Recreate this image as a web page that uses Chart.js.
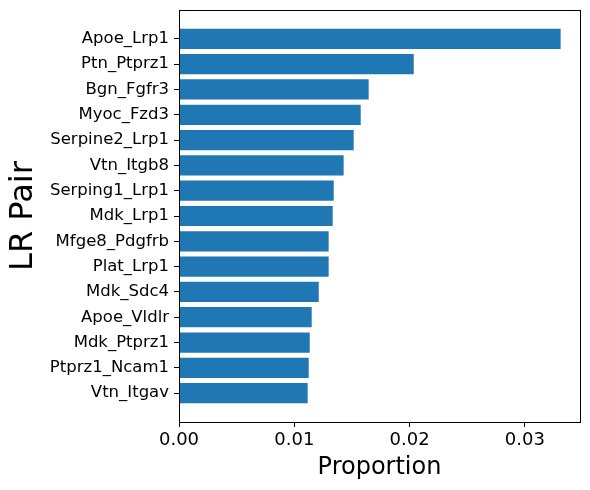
<!DOCTYPE html>
<html>
<head>
<meta charset="utf-8">
<script src="https://cdn.jsdelivr.net/npm/chart.js@4"></script>
<style>
html,body{margin:0;padding:0;background:#fff;}
#wrap{width:590px;height:490px;}
</style>
</head>
<body>
<div id="wrap"><canvas id="c" width="590" height="490"></canvas></div>
<script>
const pairs = ["Apoe_Lrp1","Ptn_Ptprz1","Bgn_Fgfr3","Myoc_Fzd3","Serpine2_Lrp1","Vtn_Itgb8","Serping1_Lrp1","Mdk_Lrp1","Mfge8_Pdgfrb","Plat_Lrp1","Mdk_Sdc4","Apoe_Vldlr","Mdk_Ptprz1","Ptprz1_Ncam1","Vtn_Itgav"];
const proportions = [0.03310,0.02036,0.01645,0.01576,0.01515,0.01428,0.01342,0.01333,0.01298,0.01298,0.01212,0.01151,0.01134,0.01125,0.01116];
const xTicks = [0, 0.01, 0.02, 0.03];

const frame = {
  id: 'frame',
  afterDraw(chart) {
    const a = chart.chartArea, ctx = chart.ctx;
    ctx.save();
    ctx.strokeStyle = '#000';
    ctx.lineWidth = 1;
    ctx.strokeRect(Math.round(a.left) + 0.5, Math.round(a.top) + 0.5, Math.round(a.right - a.left), Math.round(a.bottom - a.top));
    ctx.restore();
  }
};

new Chart(document.getElementById('c'), {
  type: 'bar',
  data: {
    datasets: [{
      data: proportions.map((v, i) => ({x: v, y: i})),
      backgroundColor: '#1f77b4',
      borderWidth: 0,
      categoryPercentage: 1.0,
      barPercentage: 0.8
    }]
  },
  options: {
    indexAxis: 'y',
    responsive: false,
    animation: false,
    devicePixelRatio: 1,
    layout: {padding: {top: 10, right: 10, left: 0, bottom: 0}},
    plugins: {legend: {display: false}, tooltip: {enabled: false}},
    scales: {
      y: {
        type: 'linear',
        reverse: true,
        offset: false,
        min: -1.14,
        max: 15.14,
        afterBuildTicks: (axis) => { axis.ticks = pairs.map((_, i) => ({value: i})); },
        afterFit: (axis) => { axis.width = 179; axis.paddingTop = 0; axis.paddingBottom = 0; },
        ticks: {
          callback: (v) => pairs[v],
          color: '#000',
          font: {family: 'DejaVu Sans', size: 16.5},
          padding: 5,
          autoSkip: false
        },
        grid: {display: true, offset: false, drawOnChartArea: false, drawTicks: true, tickLength: 5, color: '#000'},
        border: {display: true, color: '#000', width: 1},
        title: {display: true, text: 'LR Pair', color: '#000', font: {family: 'DejaVu Sans', size: 32}, padding: {top: 4, bottom: 0}}
      },
      x: {
        type: 'linear',
        min: 0,
        max: 0.03478,
        afterBuildTicks: (axis) => { axis.ticks = xTicks.map(v => ({value: v})); },
        afterFit: (axis) => { axis.height = 68; axis.paddingLeft = 0; axis.paddingRight = 0; },
        ticks: {
          callback: (v) => v.toFixed(2),
          color: '#000',
          font: {family: 'DejaVu Sans', size: 18},
          padding: 3,
          maxRotation: 0
        },
        grid: {display: true, drawOnChartArea: false, drawTicks: true, tickLength: 5, color: '#000'},
        border: {display: true, color: '#000', width: 1},
        title: {display: true, text: 'Proportion', color: '#000', font: {family: 'DejaVu Sans', size: 24}, padding: {top: 0, bottom: 8}}
      }
    }
  },
  plugins: [frame]
});
</script>
</body>
</html>
